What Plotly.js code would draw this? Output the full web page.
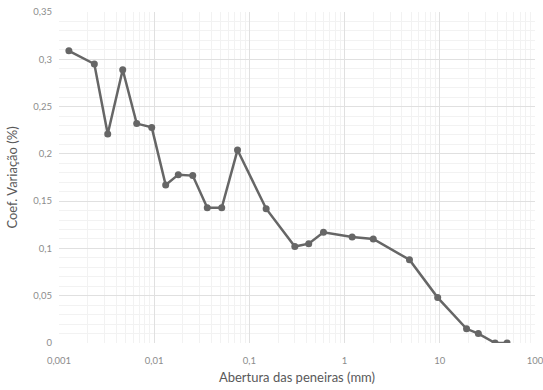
<!DOCTYPE html>
<html>
<head>
<meta charset="utf-8">
<script src="https://cdn.plot.ly/plotly-3.0.1.min.js"></script>
<style>html,body{margin:0;padding:0;background:#fff;}#chart{width:543px;height:390px;}</style>
</head>
<body>
<div id="chart"></div>
<script>
// Abertura das peneiras (mm)
const abertura = [0.00127, 0.00235, 0.00325, 0.00467, 0.00655, 0.00942, 0.0132, 0.0179, 0.0254, 0.0361, 0.0512,
                  0.075, 0.15, 0.3, 0.42, 0.6, 1.2, 2.0, 4.8, 9.5, 19.1, 25.4, 38.1, 50.8];
// Coef. Variação (%)
const coefVariacao = [0.309, 0.295, 0.221, 0.289, 0.232, 0.228, 0.167, 0.178, 0.177, 0.143, 0.143,
                      0.204, 0.142, 0.102, 0.105, 0.117, 0.112, 0.110, 0.088, 0.048, 0.015, 0.010, 0.000, 0.000];
const xTitle = 'Abertura das peneiras (mm)';
const yTitle = 'Coef. Variação (%)';

const font = 'Lato, "Open Sans", "Liberation Sans", sans-serif';

Plotly.newPlot('chart', [{
  x: abertura,
  y: coefVariacao,
  type: 'scatter',
  mode: 'lines+markers',
  line: {color: '#666666', width: 2.5},
  marker: {color: '#666666', size: 7},
  hoverinfo: 'skip'
}], {
  width: 543, height: 390,
  margin: {l: 59, r: 8, t: 12, b: 47},
  paper_bgcolor: '#ffffff', plot_bgcolor: '#ffffff',
  separators: ', ',
  showlegend: false,
  font: {family: font, color: '#8c8c8c', size: 9.5},
  xaxis: {
    type: 'log',
    range: [-3, 2],
    dtick: 1,
    showline: false, zeroline: false,
    gridcolor: '#e0e0e0', gridwidth: 1,
    ticks: '', ticklabelstandoff: 10,
    ticklabeloverflow: 'allow',
    tickfont: {size: 9.5, color: '#8c8c8c'},
    minor: {dtick: 'D1', showgrid: true, gridcolor: '#f2f2f2', gridwidth: 1},
    title: {text: xTitle, font: {size: 13, color: '#595959'}, standoff: 8}
  },
  yaxis: {
    range: [0, 0.35],
    dtick: 0.05,
    showline: false, zeroline: false,
    gridcolor: '#e0e0e0', gridwidth: 1,
    ticks: '', ticklabelstandoff: 6,
    tickfont: {size: 9.5, color: '#8c8c8c'},
    minor: {dtick: 0.01, showgrid: true, gridcolor: '#f2f2f2', gridwidth: 1},
    title: {text: yTitle, font: {size: 13, color: '#595959'}, standoff: 12}
  }
}, {displayModeBar: false, staticPlot: true});
</script>
</body>
</html>
